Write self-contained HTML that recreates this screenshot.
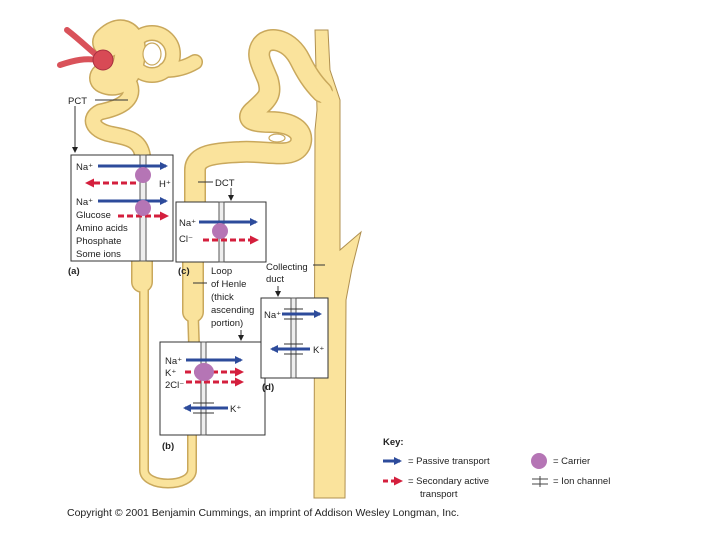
<!DOCTYPE html>
<html><head><style>
body{margin:0;background:#fff}
svg{display:block}
text{font-family:"Liberation Sans",sans-serif;fill:#222}
</style></head><body>
<svg width="720" height="540" viewBox="0 0 720 540">
<defs>
<marker id="bh" markerWidth="8" markerHeight="8" refX="6" refY="4" orient="auto" markerUnits="userSpaceOnUse"><path d="M0,0L8,4L0,8z" fill="#2d4b9b"/></marker>
<marker id="rh" markerWidth="9" markerHeight="9" refX="6" refY="4.5" orient="auto" markerUnits="userSpaceOnUse"><path d="M0,0L9,4.5L0,9z" fill="#d41f3d"/></marker>
<marker id="kh" markerWidth="6" markerHeight="6" refX="5" refY="3" orient="auto" markerUnits="userSpaceOnUse"><path d="M0,0L6,3L0,6z" fill="#222"/></marker>
</defs>
<!-- collecting duct -->
<path d="M315,30 L328,30 L330,70 L340,100 L340,250 L361,232 L352,268 L346,300 L345,498 L314,498 L315,130 L317,110 Z" fill="#fae39c" stroke="#b09050" stroke-width="1"/>
<g fill="none" stroke-linecap="round" stroke-linejoin="round">
<g stroke="#c9a85c">
<!-- DCT -->
<path d="M195,205 L195,170 C195,155 215,153 240,152 C265,150 292,160 300,145 C306,130 290,122 270,122 C250,122 245,118 255,110 C268,98 272,95 268,80 C262,65 255,55 262,45 C270,35 290,40 300,60 C306,72 312,82 322,92" stroke-width="22"/>
<!-- PCT -->
<path d="M130,85 C135,100 120,108 100,112 C88,118 92,130 110,134 C130,138 142,140 143,160" stroke-width="17"/>
<!-- capsule -->
<path d="M108,42 C120,30 130,35 130,50 C130,70 120,85 105,78" stroke-width="32"/>
<circle cx="152" cy="54" r="21" stroke-width="16"/>
<path d="M165,70 C180,70 190,65 195,62" stroke-width="16"/>
<!-- loop descending -->
<path d="M142,262 L142,282" stroke-width="22"/>
<path d="M144,285 L144,470 C144,488 192,488 192,470 L192,432" stroke-width="10"/>
<path d="M193,262 L193,312" stroke-width="22"/>
<path d="M193,314 L194,345" stroke-width="12"/>
</g>
<g stroke="#fae39c">
<path d="M195,205 L195,170 C195,155 215,153 240,152 C265,150 292,160 300,145 C306,130 290,122 270,122 C250,122 245,118 255,110 C268,98 272,95 268,80 C262,65 255,55 262,45 C270,35 290,40 300,60 C306,72 312,82 322,92" stroke-width="19"/>
<path d="M130,85 C135,100 120,108 100,112 C88,118 92,130 110,134 C130,138 142,140 143,160" stroke-width="14"/>
<path d="M108,42 C120,30 130,35 130,50 C130,70 120,85 105,78" stroke-width="29"/>
<circle cx="152" cy="54" r="21" stroke-width="13"/>
<path d="M165,70 C180,70 190,65 195,62" stroke-width="13"/>
<path d="M142,262 L142,282" stroke-width="19"/>
<path d="M144,285 L144,470 C144,488 192,488 192,470 L192,432" stroke-width="7"/>
<path d="M193,262 L193,312" stroke-width="19"/>
<path d="M193,314 L194,345" stroke-width="9"/>
</g>
<path d="M322,92 L330,100" stroke="#fae39c" stroke-width="16"/>
<ellipse cx="152" cy="54" rx="9" ry="11" stroke="#c9a85c" stroke-width="1.2" fill="#fff"/>
<ellipse cx="277" cy="138" rx="8" ry="4" stroke="#c9a85c" stroke-width="1.2" fill="#fff"/>
<path d="M67,30 C80,40 90,50 100,58 M60,65 C75,60 85,58 98,60" stroke="#d9525a" stroke-width="6"/>
</g>
<circle cx="103" cy="60" r="10" fill="#d84a55" stroke="#a83040"/>

<g stroke="#333" stroke-width="1" fill="#fff">
<rect x="71" y="155" width="102" height="106"/>
<rect x="176" y="202" width="90" height="60"/>
<rect x="160" y="342" width="105" height="93"/>
<rect x="261" y="298" width="67" height="80"/>
</g>
<g stroke="#555" stroke-width="1" fill="#eee">
<rect x="140" y="155" width="6" height="106"/>
<rect x="219" y="202" width="5" height="60"/>
<rect x="201" y="342" width="5" height="93"/>
<rect x="291" y="298" width="5" height="80"/>
</g>
<g stroke-width="3" fill="none">
<path d="M98,166 L166,166" stroke="#2d4b9b" marker-end="url(#bh)"/>
<path d="M136,183 L88,183" stroke="#d41f3d" stroke-dasharray="6,3" marker-end="url(#rh)"/>
<path d="M98,201 L166,201" stroke="#2d4b9b" marker-end="url(#bh)"/>
<path d="M118,216 L166,216" stroke="#d41f3d" stroke-dasharray="6,3" marker-end="url(#rh)"/>
<path d="M199,222 L256,222" stroke="#2d4b9b" marker-end="url(#bh)"/>
<path d="M203,240 L256,240" stroke="#d41f3d" stroke-dasharray="6,3" marker-end="url(#rh)"/>
<path d="M186,360 L241,360" stroke="#2d4b9b" marker-end="url(#bh)"/>
<path d="M185,372 L241,372" stroke="#d41f3d" stroke-dasharray="6,3" marker-end="url(#rh)"/>
<path d="M186,382 L241,382" stroke="#d41f3d" stroke-dasharray="6,3" marker-end="url(#rh)"/>
<path d="M228,408 L185,408" stroke="#2d4b9b" marker-end="url(#bh)"/>
<path d="M282,314 L320,314" stroke="#2d4b9b" marker-end="url(#bh)"/>
<path d="M310,349 L272,349" stroke="#2d4b9b" marker-end="url(#bh)"/>
</g>
<g stroke="#333" stroke-width="1">
<path d="M193,403 H214 M193,413 H214 M284,309 H303 M284,319 H303 M284,344 H303 M284,354 H303"/>
</g>
<g fill="#b575b5">
<circle cx="143" cy="175" r="8"/><circle cx="143" cy="208" r="8"/>
<circle cx="220" cy="231" r="8"/><ellipse cx="204" cy="372" rx="10" ry="9"/>
</g>
<g stroke="#333" stroke-width="1" fill="none">
<path d="M95,100 H128"/><path d="M75,106 V152" marker-end="url(#kh)"/>
<path d="M198,182 H213"/><path d="M231,188 V200" marker-end="url(#kh)"/>
<path d="M313,265 H325"/><path d="M278,286 V296" marker-end="url(#kh)"/>
<path d="M193,283 H207"/><path d="M241,330 V340" marker-end="url(#kh)"/>
</g>
<g font-size="9.5">
<text x="68" y="104">PCT</text>
<text x="76" y="170">Na⁺</text>
<text x="159" y="187">H⁺</text>
<text x="76" y="205">Na⁺</text>
<text x="76" y="218">Glucose</text>
<text x="76" y="231">Amino acids</text>
<text x="76" y="244">Phosphate</text>
<text x="76" y="257">Some ions</text>
<text x="68" y="274" font-weight="bold">(a)</text>
<text x="215" y="186">DCT</text>
<text x="179" y="226">Na⁺</text>
<text x="179" y="242">Cl⁻</text>
<text x="178" y="274" font-weight="bold">(c)</text>
<text x="211" y="274">Loop</text>
<text x="211" y="287">of Henle</text>
<text x="211" y="300">(thick</text>
<text x="211" y="313">ascending</text>
<text x="211" y="326">portion)</text>
<text x="266" y="270">Collecting</text>
<text x="266" y="282">duct</text>
<text x="264" y="318">Na⁺</text>
<text x="313" y="353">K⁺</text>
<text x="165" y="364">Na⁺</text>
<text x="165" y="376">K⁺</text>
<text x="165" y="388">2Cl⁻</text>
<text x="230" y="412">K⁺</text>
<text x="262" y="390" font-weight="bold">(d)</text>
<text x="162" y="449" font-weight="bold">(b)</text>
<text x="383" y="445" font-weight="bold">Key:</text>
<text x="408" y="464">= Passive transport</text>
<text x="408" y="484">= Secondary active</text>
<text x="420" y="497">transport</text>
<text x="553" y="464">= Carrier</text>
<text x="553" y="484">= Ion channel</text>
<text x="67" y="516" font-size="10.5">Copyright © 2001 Benjamin Cummings, an imprint of Addison Wesley Longman, Inc.</text>
</g>
<path d="M383,461 H400" stroke="#2d4b9b" stroke-width="3" marker-end="url(#bh)"/>
<path d="M383,481 H400" stroke="#d41f3d" stroke-width="3" stroke-dasharray="5,3" marker-end="url(#rh)"/>
<circle cx="539" cy="461" r="8" fill="#b575b5"/>
<path d="M532,479 H548 M532,484 H548 M540,476 V487" stroke="#444" stroke-width="1"/>
</svg>
</body></html>
